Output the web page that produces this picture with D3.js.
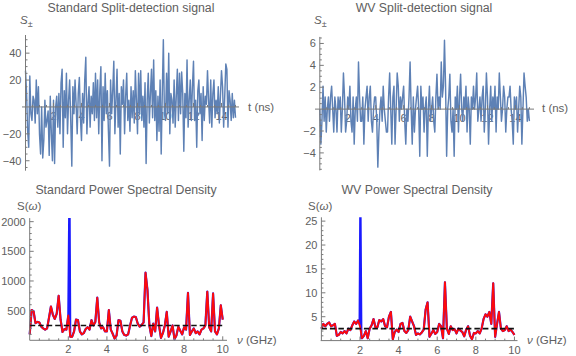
<!DOCTYPE html>
<html><head><meta charset="utf-8">
<script src="https://cdn.jsdelivr.net/npm/d3@7"></script>
<style>
body{margin:0;background:#fff}
svg text{font-family:"Liberation Sans",Arial,sans-serif;fill:#606060}
</style></head><body>
<svg id="chart" width="576" height="356"></svg>
<script>
// ---- data ----
const timeStart = 0, timeEnd = 15;
const stdSignal = [
 27,10,-18,-30,23,-5,-10,8,5,-12,20,-5,15,
 -20,-35,0,-38,-25,5,-15,-10,-3,-36,8,-20,-40,
 5,-42,0,8,-15,10,-20,18,28,-30,12,-8,25,
 -20,5,20,-10,-44,15,-5,20,2,-20,10,22,-8,
 -25,10,-12,20,37,-20,3,15,-15,8,-5,18,-10,
 25,-8,20,-20,12,30,-40,15,-10,25,-5,12,-18,
 -44,20,-5,12,34,-20,5,28,-15,10,-35,15,2,
 20,-20,8,25,-10,5,-18,15,-8,12,-12,27,5,
 -20,25,-5,27,-10,8,-15,18,-42,5,25,-12,10,
 28,-8,35,-10,12,-25,8,-18,20,-35,10,50,-5,
 -10,25,-5,40,-20,10,5,-12,20,-15,8,28,-10,
 25,-5,26,10,-33,10,-8,35,-15,5,20,-10,15,
 34,-10,5,-30,12,20,-5,10,-25,15,-10,8,2,
 27,5,-12,20,-15,10,20,-8,5,-5,15,-12,8,
 27,15,-15,8,32,28,-15,12,5,-10,10,-8,5,-8
];
const wvSignal = [
 0,-3.2,-1.1,2.1,-1.1,1.1,-2.1,0,1.1,-1.1,1.1,2.1,0,
 -2.1,1.1,0,-2.1,1.1,0,1.1,-2.1,0,3.3,1.1,-2.1,-1.1,
 1.1,0,2.1,-1.1,-2.1,1.1,-3.2,0,1.1,-1.1,4.3,1.1,-1.1,
 -1.1,1.1,-3.2,0,1.1,2.1,-1.1,1.1,2.1,-1.1,-2.1,0,1.1,
 1.1,-1.1,-5.3,-2.1,0,1.1,-1.1,2.1,0,-1.1,-2.1,-2.1,1.1,
 3.3,0,-3.2,1.1,2.1,-3.2,0,3.3,2.1,-1.1,1.1,0,1.1,
 2.1,-1.1,-3.2,0,-1.1,1.1,4.3,0,-3.2,1.1,-2.1,0,1.1,
 2.1,0,-4.3,2.1,0,1.1,-2.1,0,1.1,-4.3,0,2.1,-1.1,
 0,1.1,-1.1,-2.1,1.1,3.2,0,1.1,0,4.3,1.1,2.1,6.3,
 2.1,-4.3,0,1.1,3.2,-1.1,-2.1,0,-4.3,1.1,0,2.1,-2.1,
 1.1,3.2,0,-1.1,1.1,0,2.1,-2.1,1.1,0,-3.2,1.1,0,
 2.1,0,1.1,3.3,-1.1,0,1.1,-1.1,1.1,2.1,-2.1,0,3.3,
 1.1,-3.2,0,2.1,-1.1,1.1,0,2.1,-2.1,1.1,0,3.3,1.1,
 -1.1,0,2.1,1.1,-2.1,0,1.1,1.1,2.1,0,-1.1,-3.2,1.1,
 0,1.1,-2.1,0,2.1,1.1,-3.2,0,3.3,2.1,1.1,-1.1,0,-1.1
];
const freqStart = 0, freqEnd = 10;
const stdPSD = [
 100,510,490,290,310,300,230,200,180,200,
 380,570,430,360,450,750,350,140,190,180,
 420,60,60,150,350,340,150,100,120,190,
 220,180,340,250,310,720,300,200,220,150,
 150,510,180,110,30,80,340,330,150,90,
 80,100,250,380,400,390,280,230,260,300,
 1140,850,250,70,280,150,550,250,40,120,
 250,480,60,150,250,20,80,230,160,100,
 220,180,800,90,150,200,120,150,100,180,
 200,250,820,220,150,790,150,100,200,590,
 350
];
const wvPSD = [
 2.5,3.5,3,3.5,3.8,3,3.2,3.5,1,1.2,
 1.8,1.5,2,1.5,2.5,2.2,3.2,4,3.5,4.2,
 3,0.5,1,2,0.5,2.5,3.2,4.5,2.8,2.8,
 4.3,4,4.5,3,2.8,5,6,0.3,1.8,2.3,
 1.8,3.5,3.7,2,1.6,2.2,5,4,3,1.2,
 1.5,1.3,1.7,2.3,6.5,8,0.8,1.5,2.2,1.4,
 1.8,3.5,3,0.5,12.2,2.5,1.4,3,2.2,2.4,
 1.5,2.5,2.1,1.8,0.9,2.3,3,1,0.3,1.6,
 1.5,2,1.5,2.5,4.5,5.5,5,6,3.5,12,
 0.8,3.5,6,2.5,2,2.2,3,2,2.3,1.8,
 1.2
];
// signal spike (blue) around 2 GHz
const stdSpikeFreq = [2.0, 2.06, 2.1];
const stdSpikeVal  = [420, 2600, 60];
const wvSpikeFreq  = [1.98, 2.02, 2.07];
const wvSpikeVal   = [3.5, 30, 0.5];
const stdNoiseLevel = 250;
const wvNoiseLevel = 2.5;

const titles = ["Standard Split-detection signal","WV Split-detection signal",
                "Standard Power Spectral Density","WV Power Spectral Density"];
const timeTicks = [2,4,6,8,10,12,14];
const stdSigTicks = [-40,-20,20,40];
const wvSigTicks = [-4,-2,2,4,6];
const freqTicks = [2,4,6,8,10];
const stdPSDTicks = [500,1000,1500,2000];
const wvPSDTicks = [5,10,15,20,25];

// ---- drawing ----
const svg = d3.select("#chart");
const AX = "#7a7a7a";
let clipId = 0;

function minorRange(d, step){
  const out=[]; const s=Math.ceil(d[0]/step-1e-9), e=Math.floor(d[1]/step+1e-9);
  for(let i=s;i<=e;i++){ out.push(+(i*step).toFixed(6)); }
  return out;
}

function panel(o){
  const g = svg.append("g");
  const x = d3.scaleLinear().domain(o.xd).range(o.xr);
  const y = d3.scaleLinear().domain(o.yd).range(o.yr);
  const x0 = x(0), y0 = y(0);
  g.append("text").attr("x",o.tx).attr("y",o.ty).attr("text-anchor","middle")
   .style("font-size","12.3px").text(o.title);
  g.selectAll(".xl").data(o.xt).join("text").attr("x",d=>x(d)).attr("y",y0+13)
   .attr("text-anchor","middle").style("font-size","11px").text(d=>d);
  g.selectAll(".yl").data(o.yt).join("text").attr("x",x0-4).attr("y",d=>y(d)+4)
   .attr("text-anchor","end").style("font-size","11px").text(d=>d<0?"\u2212"+(-d):d);
  const cid = "clip"+(clipId++);
  svg.append("clipPath").attr("id",cid).append("rect")
    .attr("x",o.xr[0]-2).attr("y",o.yr[1]).attr("width",o.xr[1]-o.xr[0]+6).attr("height",o.yr[0]-o.yr[1]+2);
  const dg = g.append("g").attr("clip-path",`url(#${cid})`);
  o.draw(dg,x,y);
  g.append("line").attr("x1",o.axX[0]).attr("x2",o.axX[1]).attr("y1",y0).attr("y2",y0)
    .attr("stroke",AX).attr("stroke-width",1);
  g.append("line").attr("x1",x0).attr("x2",x0).attr("y1",o.yr[1]).attr("y2",o.yr[0])
    .attr("stroke",AX).attr("stroke-width",1);
  const xmin = minorRange([o.xd[0],o.xd[1]],o.xm).filter(v=>v!==0);
  g.selectAll(".xm").data(xmin).join("line")
    .attr("x1",d=>x(d)).attr("x2",d=>x(d)).attr("y1",y0).attr("y2",d=>y0-(o.xt.includes(d)?4:2))
    .attr("stroke",AX);
  const ymin = minorRange([o.yd[0],o.yd[1]],o.ym).filter(v=>v!==0);
  g.selectAll(".ym").data(ymin).join("line")
    .attr("y1",d=>y(d)).attr("y2",d=>y(d)).attr("x1",x0).attr("x2",d=>x0+(o.yt.includes(d)?4:2))
    .attr("stroke",AX);
  o.labels(g);
}

function sigDraw(vals, t0, t1){
  return (g,x,y)=>{
    const n = vals.length;
    const pts = vals.map((v,i)=>[t0+(t1-t0)*i/(n-1), v]);
    g.append("path").datum(pts).attr("fill","none").attr("stroke","#5E81B5")
     .attr("stroke-width",1.45).attr("stroke-linejoin","round")
     .attr("d",d3.line().x(d=>x(d[0])).y(d=>y(d[1])));
  };
}
function psdDraw(vals, spF, spV, noise){
  return (g,x,y)=>{
    const n = vals.length;
    const pts = vals.map((v,i)=>[freqStart+(freqEnd-freqStart)*i/(n-1), v]);
    const blue = pts.filter(p=>p[0]<spF[0]-0.01)
      .concat(spF.map((f,i)=>[f,spV[i]]))
      .concat(pts.filter(p=>p[0]>spF[spF.length-1]+0.01));
    const line = d3.line().x(d=>x(d[0])).y(d=>y(d[1]));
    g.append("path").datum(blue).attr("fill","none").attr("stroke","#1a1aff")
      .attr("stroke-width",2.2).attr("stroke-linejoin","round").attr("d",line);
    g.append("path").datum(pts).attr("fill","none").attr("stroke","#ff0a0a")
      .attr("stroke-width",1.9).attr("stroke-linejoin","round").attr("d",line);
    g.append("line").attr("x1",x(freqStart)).attr("x2",x(freqEnd))
      .attr("y1",y(noise)).attr("y2",y(noise)).attr("stroke","#111")
      .attr("stroke-width",1.6).attr("stroke-dasharray","5.5,3");
  };
}
function sLabel(g,xp,yp){
  const t = g.append("text").attr("x",xp).attr("y",yp).style("font-size","11.5px");
  t.append("tspan").style("font-style","italic").text("S");
  t.append("tspan").attr("dy",3).style("font-size","9px").text("\u00b1");
}
function tLabel(g,xp,yp){
  g.append("text").attr("x",xp).attr("y",yp).style("font-size","11.5px").text("t (ns)");
}
function swLabel(g,xp,yp){
  const t = g.append("text").attr("x",xp).attr("y",yp).style("font-size","11.5px");
  t.append("tspan").text("S(");
  t.append("tspan").style("font-style","italic").text("\u03c9");
  t.append("tspan").text(")");
}
function nuLabel(g,xp,yp){
  const t = g.append("text").attr("x",xp).attr("y",yp).style("font-size","11.5px");
  t.append("tspan").style("font-style","italic").text("\u03bd");
  t.append("tspan").text(" (GHz)");
}

panel({xd:[0,15.05], xr:[25.5,236.2], yd:[-47.4,53.5], yr:[170.7,35],
  xt:timeTicks, xm:0.5, yt:stdSigTicks, ym:5, axX:[22,239],
  title:titles[0], tx:131, ty:11.5,
  draw:sigDraw(stdSignal,timeStart,timeEnd),
  labels:g=>{ sLabel(g,20,24); tLabel(g,248,111); }});
panel({xd:[0,15.05], xr:[319.8,530.1], yd:[-5.6,6.6], yr:[170.4,36.9],
  xt:timeTicks, xm:0.5, yt:wvSigTicks, ym:0.5, axX:[315,534],
  title:titles[1], tx:424, ty:11.5,
  draw:sigDraw(wvSignal,timeStart,timeEnd),
  labels:g=>{ sLabel(g,314,24); tLabel(g,542,112); }});
panel({xd:[0,10.05], xr:[29.7,223.7], yd:[0,2060], yr:[340.3,218.1],
  xt:freqTicks, xm:0.5, yt:stdPSDTicks, ym:100, axX:[29.7,227],
  title:titles[2], tx:126, ty:194,
  draw:psdDraw(stdPSD,stdSpikeFreq,stdSpikeVal,stdNoiseLevel),
  labels:g=>{ swLabel(g,17,210); nuLabel(g,237,344); }});
panel({xd:[0,10.2], xr:[321.4,518.3], yd:[0,25.8], yr:[340.6,217.3],
  xt:freqTicks, xm:0.5, yt:wvPSDTicks, ym:1, axX:[320.7,517.5],
  title:titles[3], tx:417, ty:194,
  draw:psdDraw(wvPSD,wvSpikeFreq,wvSpikeVal,wvNoiseLevel),
  labels:g=>{ swLabel(g,308,210); nuLabel(g,527,344); }});
</script></body></html>
